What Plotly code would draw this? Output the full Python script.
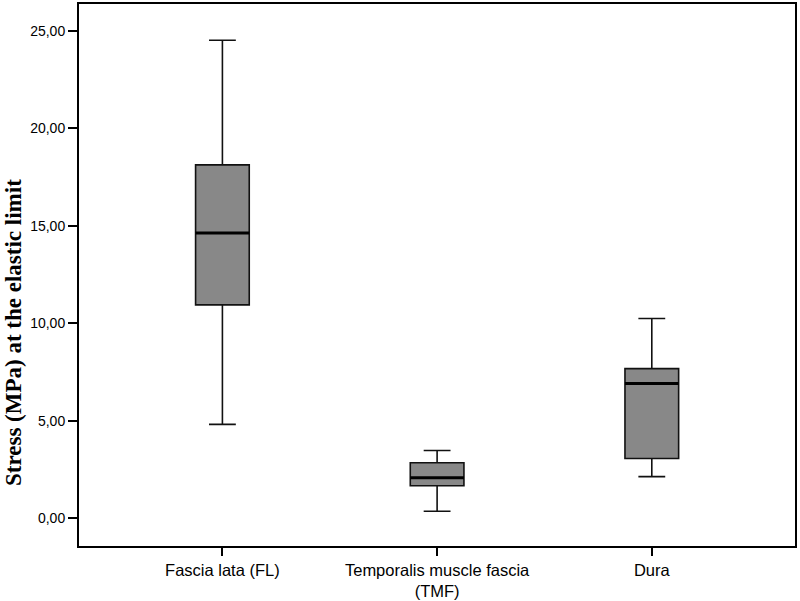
import plotly.graph_objects as go

categories = ["Fascia lata (FL)", "Temporalis muscle fascia<br>(TMF)", "Dura"]
lower_whisker = [4.82, 0.36, 2.14]
q1_values = [10.95, 1.67, 3.07]
median_values = [14.64, 2.08, 6.92]
q3_values = [18.13, 2.85, 7.68]
upper_whisker = [24.52, 3.48, 10.25]
y_tick_values = [0, 5, 10, 15, 20, 25]
y_tick_labels = ["0,00", "5,00", "10,00", "15,00", "20,00", "25,00"]

box_width = 0.25

fig = go.Figure()
fig.add_trace(go.Box(
    x=categories,
    q1=q1_values,
    median=median_values,
    q3=q3_values,
    lowerfence=lower_whisker,
    upperfence=upper_whisker,
    width=box_width,
    whiskerwidth=0.5,
    fillcolor="#888888",
    line=dict(color="#111111", width=1.6),
    boxpoints=False,
    showlegend=False,
    hoverinfo="skip",
))

# thicker median lines (SPSS style)
for i, m in enumerate(median_values):
    fig.add_shape(type="line", xref="x", yref="y",
                  x0=i - box_width / 2, x1=i + box_width / 2, y0=m, y1=m,
                  line=dict(color="black", width=3))

fig.add_annotation(
    text="<b>Stress (MPa) at the elastic limit</b>",
    textangle=-90, xref="paper", yref="paper",
    x=(13 - 79) / 716, y=(546 - 333) / 542,
    xanchor="center", yanchor="middle", showarrow=False,
    font=dict(family="Liberation Serif", size=23, color="black"),
)

fig.update_layout(
    width=800, height=601,
    margin=dict(l=79, r=5, t=4, b=55, autoexpand=False),
    plot_bgcolor="white", paper_bgcolor="white",
    font=dict(family="Liberation Sans", color="black"),
    xaxis=dict(
        type="category",
        range=[-0.668, 2.667],
        automargin=False,
        showline=True, linecolor="black", linewidth=2, mirror=True,
        ticks="outside", ticklen=8, tickwidth=1.5, tickcolor="black",
        tickfont=dict(size=16.5, family="Liberation Sans", color="black"),
        showgrid=False, zeroline=False,
    ),
    yaxis=dict(
        range=[-1.42, 26.38],
        automargin=False,
        tickvals=y_tick_values, ticktext=y_tick_labels,
        showline=True, linecolor="black", linewidth=2, mirror=True,
        ticks="outside", ticklen=9, tickwidth=1.5, tickcolor="black",
        tickfont=dict(size=14, family="Liberation Sans", color="black"),
        showgrid=False, zeroline=False,
    ),
)

fig.write_html(
    "out.html",
    config={"displayModeBar": False},
    post_script="document.body.style.margin='0';document.body.style.padding='0';"
                "document.body.style.overflow='hidden';",
)
